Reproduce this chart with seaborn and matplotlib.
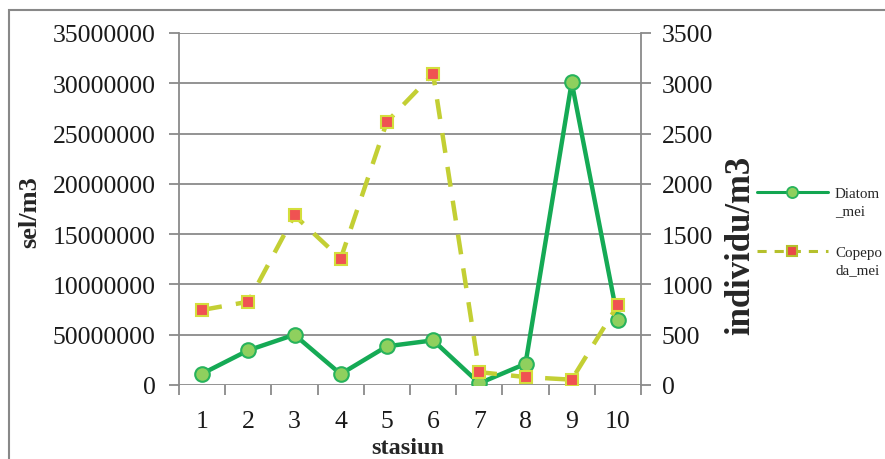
import matplotlib
matplotlib.use("Agg")
import matplotlib.pyplot as plt
import seaborn as sns
import pandas as pd
import numpy as np
from matplotlib.lines import Line2D
from matplotlib.patches import Rectangle

# ---- data ----
stations = [1, 2, 3, 4, 5, 6, 7, 8, 9, 10]
diatom_mei = [1120000, 3450000, 5000000, 1090000, 3850000, 4440000, 170000, 2110000, 30100000, 6480000]
copepoda_mei = [746, 828, 1686, 1256, 2617, 3094, 128, 79, 53, 796]
left_ticks = [0, 5000000, 10000000, 15000000, 20000000, 25000000, 30000000, 35000000]
left_tick_labels = ["0", "50000000", "10000000", "15000000", "20000000", "25000000", "30000000", "35000000"]
right_ticks = [0, 500, 1000, 1500, 2000, 2500, 3000, 3500]
series_names = ["Diatom\n_mei", "Copepo\nda_mei"]

df = pd.DataFrame({"stasiun": stations, "diatom": diatom_mei, "copepoda": copepoda_mei})

sns.set_theme(style="white")
plt.rcParams["font.family"] = ["Liberation Serif", "DejaVu Serif"]

W, H = 885, 460
fig = plt.figure(figsize=(W / 100, H / 100), dpi=100)
fig.patch.set_facecolor("white")

# chart-area border (left/top visible)
fig.patches.append(Rectangle((9 / W, -0.1), 1.2, (H - 11) / H + 0.1, transform=fig.transFigure,
                             fill=False, edgecolor="#888888", linewidth=1.5, zorder=0))

ax = fig.add_axes([179 / W, 1 - 386 / H, (641 - 179) / W, (386 - 34) / H])
ax.set_facecolor("none")
ax2 = ax.twinx()

grid_c = "#8a8a8a"
for yv in left_ticks:
    ax.axhline(yv, color=grid_c, lw=1.3, zorder=1)

sns.lineplot(data=df, x="stasiun", y="diatom", ax=ax, color="#15aa55", lw=3.2,
             marker="o", markersize=10.5, markerfacecolor="#8fd05e", markeredgecolor="#27b35c",
             markeredgewidth=1.5, zorder=5, legend=False)
sns.lineplot(data=df, x="stasiun", y="copepoda", ax=ax2, color="#c3cf34", lw=3.2,
             marker="s", markersize=8, markerfacecolor="#f05252", markeredgecolor="#d4de3c",
             markeredgewidth=1.5, zorder=5, legend=False)
for l in ax2.lines:
    l.set_dashes([4.5, 3.2])

ax.set_xlim(0.5, 10.5)
ax.set_ylim(0, 35000000)
ax2.set_ylim(0, 3500)
ax.set_yticks(left_ticks)
ax.set_yticklabels(left_tick_labels)
ax2.set_yticks(right_ticks)
ax2.set_yticklabels([str(v) for v in right_ticks])
ax.set_xticks(stations)
ax.set_xticklabels([str(s) for s in stations])
ax.set_xticks(np.arange(0.5, 11, 1), minor=True)

for a in (ax, ax2):
    for s in a.spines.values():
        s.set_visible(False)
ax.spines["left"].set_visible(True)
ax.spines["left"].set_color(grid_c)
ax.spines["left"].set_linewidth(1.3)
ax2.spines["right"].set_visible(True)
ax2.spines["right"].set_color(grid_c)
ax2.spines["right"].set_linewidth(1.3)

fs = 18.5
ax.tick_params(axis="y", which="major", length=7, width=1.3, color=grid_c, labelsize=fs, pad=10, left=True)
ax2.tick_params(axis="y", which="major", length=7, width=1.3, color=grid_c, labelsize=fs, pad=8, right=True)
ax.tick_params(axis="x", which="major", length=0, labelsize=fs, pad=18, bottom=True)
ax.tick_params(axis="x", which="minor", length=7, width=1.3, color=grid_c, bottom=True)
for lab in ax.get_yticklabels() + ax2.get_yticklabels() + ax.get_xticklabels():
    lab.set_color("#1a1a1a")

ax.set_xlabel("")
ax.set_ylabel("")
ax2.set_ylabel("")
fig.text(408 / W, 1 - 454.5 / H, "stasiun", ha="center", va="baseline", fontsize=17.5, fontweight="bold")
fig.text(30 / W, 1 - 212 / H, "sel/m3", ha="center", va="center", rotation=90, fontsize=19, fontweight="bold")
fig.text(741 / W, 1 - 245 / H, "individu/m3", ha="center", va="center", rotation=90, fontsize=25, fontweight="bold")

h1 = Line2D([], [], color="#12a651", lw=2.2, marker="o", markersize=8,
            markerfacecolor="#8fd05e", markeredgecolor="#27b35c", markeredgewidth=1.3)
h2 = Line2D([], [], color="#b5c02c", lw=2.2, marker="s", markersize=7, dashes=[3, 2.6],
            markerfacecolor="#e84848", markeredgecolor="#b5c02c", markeredgewidth=1.5)
leg = fig.legend([h1, h2], series_names, loc="upper left", bbox_to_anchor=(757 / W, 1 - 188 / H),
                 frameon=False, fontsize=10.8, handlelength=4.7, handletextpad=0.5,
                 labelspacing=1.9, borderpad=0, borderaxespad=0)
for t in leg.get_texts():
    t.set_linespacing(1.45)
try:
    for col in leg._legend_handle_box.get_children():
        for item in col.get_children():
            item.align = "top"
except Exception:
    pass

fig.savefig("out.png", dpi=100)
